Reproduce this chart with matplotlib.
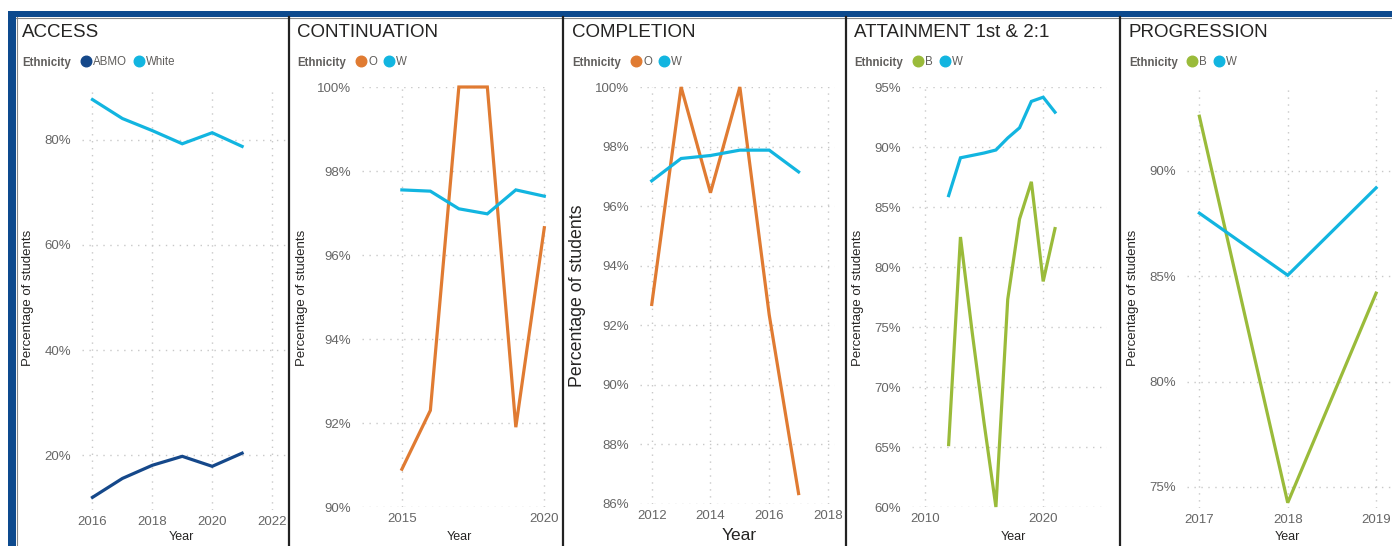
import matplotlib
matplotlib.use("Agg")
import matplotlib.pyplot as plt
from matplotlib.lines import Line2D
from matplotlib.patches import Rectangle
from matplotlib.ticker import FuncFormatter

plt.rcParams['font.family'] = ['Liberation Sans', 'DejaVu Sans']

W, H = 1392, 546

# ---- data (percent of students) ----
access_years = [2016, 2017, 2018, 2019, 2020, 2021]
access_abmo = [12.0, 15.6, 18.1, 19.8, 17.9, 20.4]
access_white = [87.6, 84.0, 81.7, 79.2, 81.3, 78.7]

cont_years = [2015, 2016, 2017, 2018, 2019, 2020]
cont_o = [90.9, 92.3, 100.0, 100.0, 91.9, 96.65]
cont_w = [97.55, 97.52, 97.1, 96.98, 97.55, 97.4]

comp_years = [2012, 2013, 2014, 2015, 2016, 2017]
comp_o = [92.7, 100.0, 96.45, 100.0, 92.35, 86.35]
comp_w = [96.85, 97.6, 97.7, 97.88, 97.88, 97.15]

att_years = [2012, 2013, 2014, 2015, 2016, 2017, 2018, 2019, 2020, 2021]
att_b = [65.2, 82.5, 74.5, 67.0, 60.0, 77.3, 84.0, 87.1, 78.8, 83.2]
att_w = [85.95, 89.1, 89.3, 89.5, 89.75, 90.75, 91.6, 93.8, 94.15, 92.9]

prog_years = [2017, 2018, 2019]
prog_b = [92.6, 74.25, 84.2]
prog_w = [88.0, 85.05, 89.2]

DARK = '#15488A'
CYAN = '#12B5E0'
ORANGE = '#E07B32'
GREEN = '#9ABB3A'
FRAME = '#0D4A8E'


def fx(x):
    return x / W


def fy(y):
    return 1 - y / H


fig = plt.figure(figsize=(W / 100, H / 100), dpi=100)
fig.patch.set_facecolor('white')

# outer frame
fig.add_artist(Rectangle((fx(8), fy(17)), fx(1392 - 8), 6 / H, transform=fig.transFigure,
                         color=FRAME, lw=0))
fig.add_artist(Rectangle((fx(8), 0), fx(8), fy(11), transform=fig.transFigure,
                         color=FRAME, lw=0))
fig.add_artist(Line2D([fx(16), 1], [fy(17.5), fy(17.5)], transform=fig.transFigure,
                      color='#888888', lw=0.8))
fig.add_artist(Line2D([fx(16.5), fx(16.5)], [0, fy(17)], transform=fig.transFigure,
                      color='#888888', lw=0.8))
for xs in [289, 563, 846, 1120]:
    fig.add_artist(Line2D([fx(xs), fx(xs)], [0, fy(17)], transform=fig.transFigure,
                          color='#222222', lw=1.6))

panels = [
    dict(title='ACCESS', box=(82, 88, 287, 510), xlim=(2015.65, 2022.5), ylim=(9.6, 89.8),
         xticks=[2016, 2018, 2020, 2022], yticks=[20, 40, 60, 80],
         x=access_years, series=[('ABMO', access_abmo, DARK), ('White', access_white, CYAN)],
         tx=22, legx=81, ylab=(28, 298, 9.5), year=(181, 537, 9)),
    dict(title='CONTINUATION', box=(362, 87, 550, 507), xlim=(2013.6, 2020.2), ylim=(90, 100),
         xticks=[2015, 2020], yticks=[90, 92, 94, 96, 98, 100],
         x=cont_years, series=[('O', cont_o, ORANGE), ('W', cont_w, CYAN)],
         tx=297, legx=356, ylab=(302, 298, 9.5), year=(459, 537, 9)),
    dict(title='COMPLETION', box=(640, 87, 835, 504), xlim=(2011.6, 2018.24), ylim=(86, 100),
         xticks=[2012, 2014, 2016, 2018], yticks=[86, 88, 90, 92, 94, 96, 98, 100],
         x=comp_years, series=[('O', comp_o, ORANGE), ('W', comp_w, CYAN)],
         tx=572, legx=631, ylab=(578, 296, 12.8), year=(739, 536, 12.5)),
    dict(title='ATTAINMENT 1st & 2:1', box=(912, 87, 1107, 507), xlim=(2008.9, 2025.4), ylim=(60, 95),
         xticks=[2010, 2020], yticks=[60, 65, 70, 75, 80, 85, 90, 95],
         x=att_years, series=[('B', att_b, GREEN), ('W', att_w, CYAN)],
         tx=854, legx=913, ylab=(858, 298, 9.5), year=(1013, 537, 9)),
    dict(title='PROGRESSION', box=(1187, 88, 1392, 508), xlim=(2016.86, 2019.18), ylim=(74.0, 93.94),
         xticks=[2017, 2018, 2019], yticks=[75, 80, 85, 90],
         x=prog_years, series=[('B', prog_b, GREEN), ('W', prog_w, CYAN)],
         tx=1129, legx=1187, ylab=(1133, 298, 9.5), year=(1287, 537, 9)),
]

pct = FuncFormatter(lambda v, p: f'{v:.0f}%')

for p in panels:
    l, t, r, b = p['box']
    ax = fig.add_axes([fx(l), fy(b), (r - l) / W, (b - t) / H])
    for name, vals, col in p['series']:
        ax.plot(p['x'], vals, color=col, lw=2.3, solid_joinstyle='miter', clip_on=False, zorder=3)
    ax.set_xlim(*p['xlim'])
    ax.set_ylim(*p['ylim'])
    ax.set_xticks(p['xticks'])
    ax.set_yticks(p['yticks'])
    ax.yaxis.set_major_formatter(pct)
    ax.tick_params(length=0, labelsize=9.5, labelcolor='#666666')
    ax.tick_params(axis='y', pad=8)
    ax.tick_params(axis='x', pad=4)
    ax.grid(True, color='#C8C8C8', linestyle=(0, (1, 4)), linewidth=1)
    for s in ax.spines.values():
        s.set_visible(False)
    ax.patch.set_alpha(0)

    fig.text(fx(p['tx']), fy(37), p['title'], fontsize=13.5, color='#252423', va='baseline')
    fig.text(fx(p['tx']), fy(66), 'Ethnicity', fontsize=8.3, fontweight='bold',
             color='#605E5C', va='baseline')
    handles = [Line2D([], [], marker='o', ls='', color=c, markersize=7.6) for _, _, c in p['series']]
    labels = [n for n, _, _ in p['series']]
    ax.legend(handles, labels, ncol=2, loc='center left',
              bbox_to_anchor=(fx(p['legx']), fy(62)), bbox_transform=fig.transFigure,
              frameon=False, fontsize=8.3, labelcolor='#605E5C', handlelength=0.95,
              handletextpad=0.12, columnspacing=0.55, borderpad=0, borderaxespad=0)

    yx, yy, ys = p['ylab']
    fig.text(fx(yx), fy(yy), 'Percentage of students', rotation=90, ha='center', va='center',
             fontsize=ys, color='#252423')
    ex, ey, es = p['year']
    fig.text(fx(ex), fy(ey), 'Year', ha='center', va='center', fontsize=es, color='#252423')

fig.savefig('out.png', dpi=100)
